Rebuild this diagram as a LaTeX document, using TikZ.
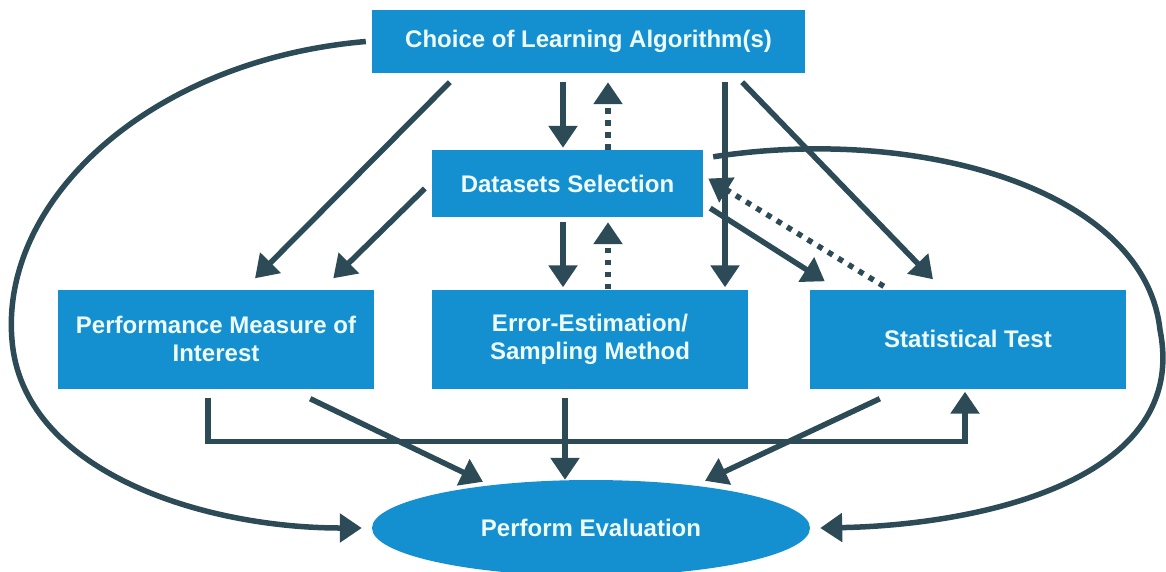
\documentclass[tikz,border=0pt]{standalone}
\usepackage{fontspec}
\setmainfont{Liberation Sans}
\usetikzlibrary{arrows.meta,shapes.geometric}
\definecolor{boxblue}{HTML}{1490D0}
\definecolor{linkcol}{HTML}{2D4B56}
\definecolor{labelcol}{HTML}{EEFBFF}

\begin{document}
\begin{tikzpicture}[x=1pt,y={(0pt,-1pt)},
  stage/.style={rectangle, fill=boxblue, text=labelcol,
    font=\fontsize{24}{28}\selectfont\bfseries, align=center, inner sep=0pt},
  goal/.style={ellipse, fill=boxblue, text=labelcol, inner sep=0pt,
    font=\fontsize{24}{28}\selectfont\bfseries},
  link/.style={draw=linkcol, line width=5.5pt, -{Triangle[length=22pt,width=28pt]}},
  dotlink/.style={link, dash pattern=on 5.5pt off 6.5pt},
]
\useasboundingbox (0,0) rectangle (1166,571);

% stages
\node[stage, minimum width=433pt, minimum height=63pt] (algo) at (588.5,41.5) {Choice of Learning Algorithm(s)};
\node[stage, minimum width=271pt, minimum height=67pt] (data) at (567.5,183.5) {Datasets Selection};
\node[stage, minimum width=316pt, minimum height=99pt] (perf) at (216,339) {Performance Measure of\\Interest};
\node[stage, minimum width=316pt, minimum height=99pt] (err) at (590,339) {Error-Estimation/\\Sampling Method};
\node[stage, minimum width=316pt, minimum height=99pt] (stat) at (968,339) {Statistical Test};
\node[goal, minimum width=438pt, minimum height=96pt] (eval) at (591,528) {Perform Evaluation};

% links between the upper stages
\draw[link] ([xshift=-25.5pt,yshift=-9pt]algo.south) -- ([xshift=-4.5pt,yshift=2pt]data.north);
\draw[dotlink] ([xshift=40.5pt]data.north) -- ([xshift=19.5pt,yshift=-9pt]algo.south);
\draw[link] ([xshift=78pt,yshift=-9pt]algo.south west) -- ([xshift=39pt,yshift=11pt]perf.north);
\draw[link] ([xshift=-7pt,yshift=-5pt]data.west) -- ([xshift=-41pt,yshift=11pt]perf.north east);
\draw[link] ([xshift=136.5pt,yshift=-9pt]algo.south) -- ([xshift=135pt,yshift=2pt]err.north);
\draw[link] ([xshift=-63pt,yshift=-9pt]algo.south east) -- ([xshift=-35pt,yshift=10pt]stat.north);
\draw[link] ([xshift=7pt,yshift=9pt]data.south east) -- ([xshift=15pt,yshift=8pt]stat.north west);
\draw[dotlink] ([xshift=74pt,yshift=3pt]stat.north west) -- ([xshift=5pt,yshift=5pt]data.east);
\draw[link] ([xshift=-4.5pt,yshift=-5pt]data.south) -- ([xshift=-27pt,yshift=2pt]err.north);
\draw[dotlink] ([xshift=18pt]err.north) -- ([xshift=40.5pt,yshift=-5pt]data.south);

% outer loops to the evaluation
\draw[link] ([xshift=-6pt]algo.west) .. controls (150,60) and (0,200) .. (12,340)
  .. controls (22,470) and (200,528) .. ([xshift=-10pt]eval.west);
\draw[link] ([xshift=10pt,yshift=-7pt]data.north east) .. controls (920,125) and (1145,190) .. (1160,330)
  .. controls (1190,480) and (980,525) .. ([xshift=10pt]eval.east);

% lower links
\draw[link] ([xshift=-8pt,yshift=-9pt]perf.south) -- ++(0,44) -| ([xshift=-3pt,yshift=-3pt]stat.south);
\draw[link] ([xshift=-64pt,yshift=-10pt]perf.south east) -- ([xshift=-108pt,yshift=-2pt]eval.north);
\draw[link] ([xshift=-25pt,yshift=-9pt]err.south) -- ([xshift=-26pt]eval.north);
\draw[link] ([xshift=70pt,yshift=-10pt]stat.south west) -- ([xshift=114pt,yshift=-1pt]eval.north);
\end{tikzpicture}
\end{document}
